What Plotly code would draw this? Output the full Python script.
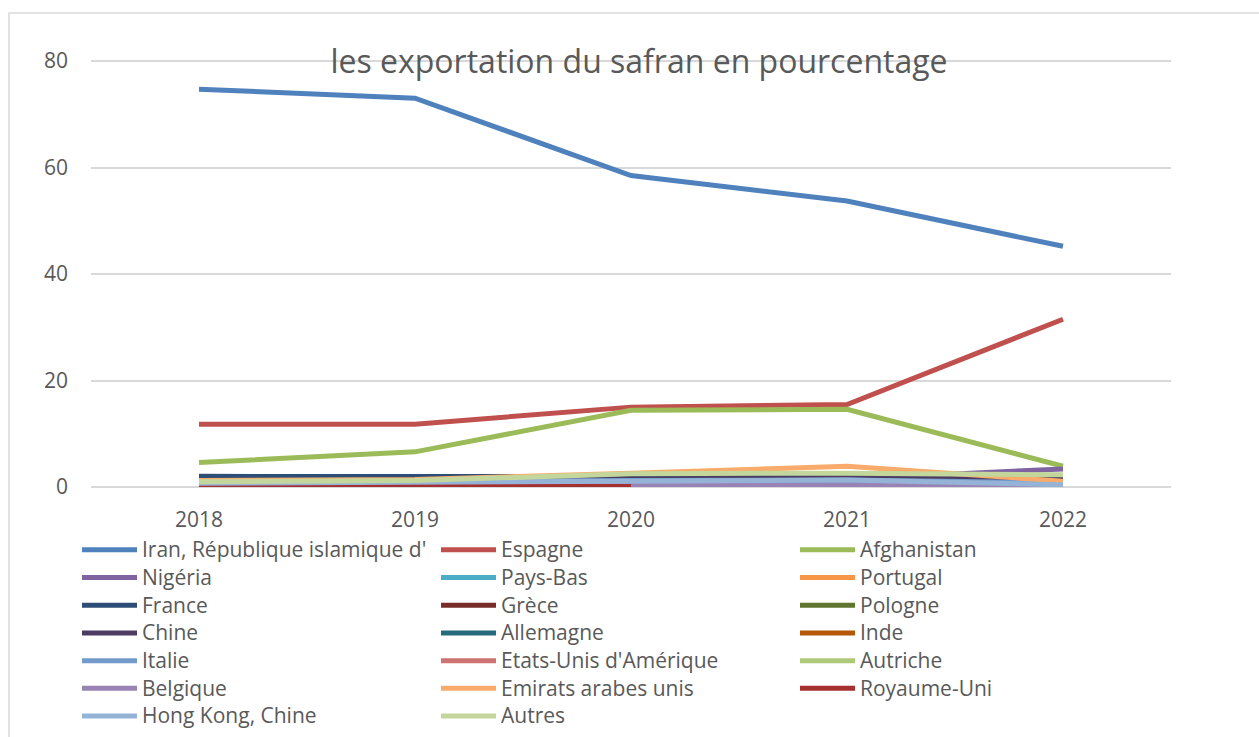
import plotly.graph_objects as go

years = ["2018", "2019", "2020", "2021", "2022"]

countries = [
    "Iran, République islamique d'", "Espagne", "Afghanistan",
    "Nigéria", "Pays-Bas", "Portugal",
    "France", "Grèce", "Pologne",
    "Chine", "Allemagne", "Inde",
    "Italie", "Etats-Unis d'Amérique", "Autriche",
    "Belgique", "Emirats arabes unis", "Royaume-Uni",
    "Hong Kong, Chine", "Autres",
]

iran = [74.7, 73.0, 58.5, 53.7, 45.2]
espagne = [11.8, 11.8, 15.0, 15.5, 31.5]
afghanistan = [4.6, 6.6, 14.4, 14.6, 3.9]
nigeria = [0.1, 0.2, 0.8, 1.5, 3.4]
pays_bas = [0.4, 0.4, 0.5, 0.5, 0.4]
portugal = [0.3, 0.3, 0.4, 0.5, 0.6]
france = [2.0, 2.0, 1.8, 1.9, 1.9]
grece = [0.5, 0.4, 0.6, 0.7, 0.5]
pologne = [0.1, 0.1, 0.1, 0.1, 0.1]
chine = [0.3, 0.4, 1.5, 1.7, 1.6]
allemagne = [0.5, 0.5, 0.6, 0.6, 0.5]
inde = [0.1, 0.1, 0.2, 0.2, 0.1]
italie = [1.0, 1.0, 1.2, 1.3, 0.8]
etats_unis = [0.5, 0.5, 0.6, 0.6, 0.4]
autriche = [0.2, 0.2, 0.3, 0.3, 0.2]
belgique = [0.1, 0.1, 0.3, 0.4, 0.1]
emirats = [1.2, 1.4, 2.6, 3.9, 1.1]
royaume_uni = [0.3, 0.3, 0.1, None, None]
hong_kong = [0.7, 0.8, 1.1, 1.3, 0.4]
autres = [1.0, 1.2, 2.5, 2.6, 2.3]

series = [
    iran, espagne, afghanistan, nigeria, pays_bas, portugal, france, grece,
    pologne, chine, allemagne, inde, italie, etats_unis, autriche, belgique,
    emirats, royaume_uni, hong_kong, autres,
]

colors = [
    "#4F81BD", "#C0504D", "#9BBB59", "#8064A2", "#4BACC6", "#F79646",
    "#2C4D75", "#772C2A", "#5F7530", "#4D3B62", "#276A7C", "#B65708",
    "#729ACA", "#CD7371", "#AFC97A", "#9983B5", "#F9AB6B", "#A5302F",
    "#95B3D7", "#C3D69B",
]

FONT = "'Open Sans', Lato, sans-serif"
GREY = "#595959"

# plot area in px: left 91, right 1171, top 59, bottom 487
PLOT_H = 428

fig = go.Figure()
for name, vals, col in zip(countries, series, colors):
    fig.add_trace(
        go.Scatter(
            x=years, y=vals, mode="lines",
            # legend rows keep the 19px spacing, text drawn a bit larger
            name=f"<span style='font-size:21px'>{name}</span>",
            line=dict(color=col, width=5), connectgaps=False,
            hovertemplate=f"{name}<br>%{{x}}: %{{y}}<extra></extra>",
        )
    )

fig.update_layout(
    width=1259,
    height=737,
    paper_bgcolor="white",
    plot_bgcolor="white",
    margin=dict(l=91, r=88, t=59, b=250, autoexpand=False),
    font=dict(family=FONT, color=GREY, size=21),
    title=dict(
        text="les exportation du safran en pourcentage",
        x=639 / 1259, xanchor="center", xref="container",
        y=1 - 62 / 737, yanchor="middle", yref="container",
        font=dict(size=32, color=GREY, family=FONT),
    ),
    xaxis=dict(
        type="category", range=[-0.5, 4.5], showgrid=False, zeroline=False,
        showline=False, ticks="", ticklabelstandoff=18,
        tickfont=dict(size=21, color=GREY),
    ),
    yaxis=dict(
        # top gridline 2px below the edge so plotly keeps it
        range=[0, 80 * PLOT_H / 426], tickvals=[0, 20, 40, 60, 80],
        showgrid=True, gridcolor="#D9D9D9", gridwidth=1.5, zeroline=True,
        zerolinecolor="#D9D9D9", zerolinewidth=1.5, showline=False,
        ticks="", ticklabelstandoff=22,
        tickfont=dict(size=21, color=GREY),
    ),
    legend=dict(
        orientation="h", x=(77 - 91) / 1080, xanchor="left",
        y=(487 - 531) / PLOT_H, yanchor="top",
        entrywidth=289, entrywidthmode="pixels", itemwidth=55,
        traceorder="normal", font=dict(size=19, color=GREY, family=FONT),
        tracegroupgap=0, bgcolor="rgba(0,0,0,0)",
    ),
    showlegend=True,
)

# outer chart-area border
fig.add_shape(
    type="rect", xref="paper", yref="paper",
    x0=(9 - 91) / 1080, x1=(1262 - 91) / 1080,
    y0=(487 - 745) / PLOT_H, y1=(487 - 13) / PLOT_H,
    line=dict(color="#D9D9D9", width=1.5), layer="below",
)

fig.write_html(
    "out.html",
    config={"displayModeBar": False},
    post_script="document.body.style.margin = '0';",
)
